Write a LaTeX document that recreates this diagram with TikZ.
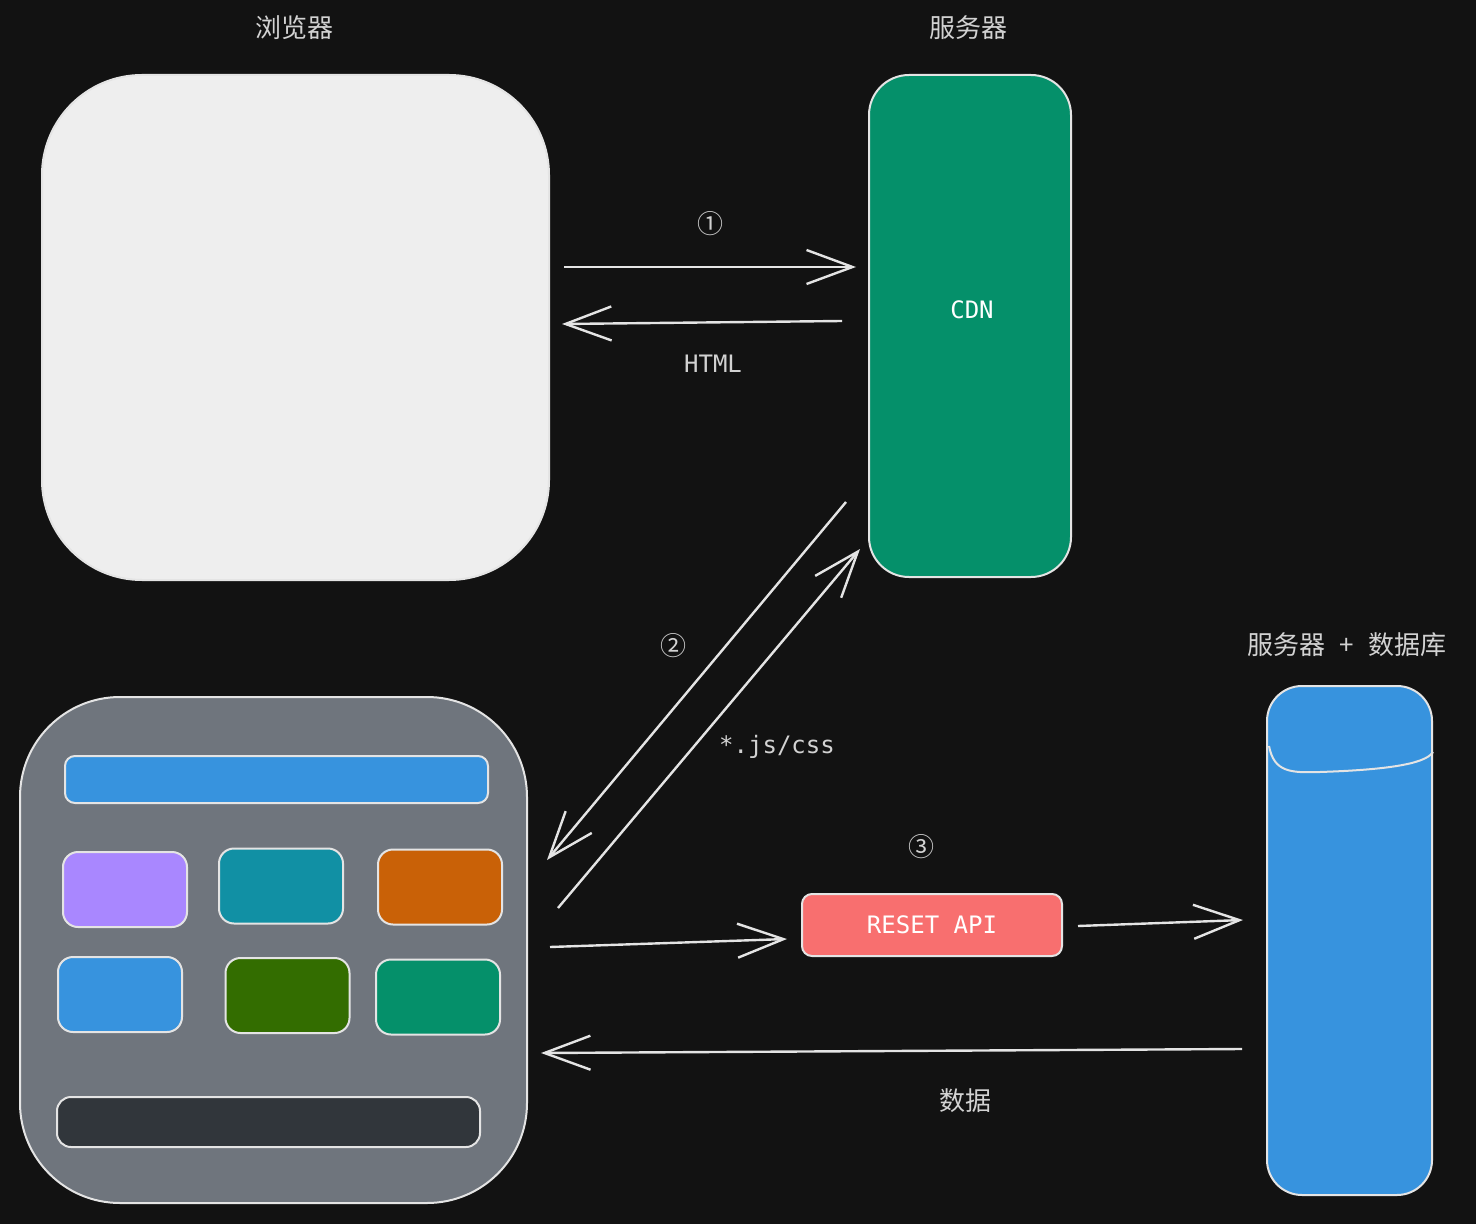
\documentclass[tikz,border=0pt]{standalone}
\usepackage{fontspec}
\setmonofont{DejaVu Sans Mono}
\newfontfamily\cjk{Noto Sans CJK SC}
\usetikzlibrary{arrows.meta}

\definecolor{canvas}{HTML}{121212}
\definecolor{edge}{HTML}{E4E4E4}
\definecolor{label}{HTML}{D2D2D2}
\definecolor{paper}{HTML}{EEEEEE}
\definecolor{cdngreen}{HTML}{05906A}
\definecolor{slate}{HTML}{6F757D}
\definecolor{sky}{HTML}{3793DE}
\definecolor{lilac}{HTML}{A987FF}
\definecolor{teal}{HTML}{1190A4}
\definecolor{rust}{HTML}{C96107}
\definecolor{moss}{HTML}{336D00}
\definecolor{ink}{HTML}{31363B}
\definecolor{coral}{HTML}{F86F6F}

\begin{document}
\begin{tikzpicture}[x=0.5pt, y=-0.5pt,
	box/.style={draw=edge, line width=1pt, inner sep=0pt},
	tile/.style={box, minimum width=62pt, minimum height=37.5pt, rounded corners=7.5pt},
	title/.style={text=label, font=\cjk\fontsize{13}{15}\selectfont},
	code/.style={text=label, font=\ttfamily\fontsize{12}{14}\selectfont},
	flow/.style={draw=edge, line width=1.2pt, -{Straight Barb[length=23pt, width=17pt]}}]

	\fill[canvas] (0, 0) rectangle (1476, 1224);
	\useasboundingbox (0, 0) rectangle (1476, 1224);

	% titles
	\node[title] (browsertitle) at (294, 28) {浏览器};
	\node[title] (servertitle) at (968, 28) {服务器};
	\node[title] (dbtitle) at (1347, 645) {服务器\hspace{4pt} + \hspace{4pt}数据库};

	% big boxes
	\node[box, fill=paper, minimum width=253.5pt, minimum height=252.5pt, rounded corners=50pt] (browser) at (295.5, 327.5) {};
	\node[box, fill=cdngreen, minimum width=101pt, minimum height=251pt, rounded corners=20pt] (cdn) at (970, 326) {};
	\node[text=white, font=\ttfamily\fontsize{12}{14}\selectfont] (cdnlabel) at (972, 310) {CDN};
	\node[box, fill=slate, minimum width=253.5pt, minimum height=253pt, rounded corners=50pt] (page) at (273.5, 950) {};
	\node[box, fill=sky, minimum width=82.5pt, minimum height=254.5pt, rounded corners=17.5pt] (db) at (1349.5, 940.5) {};
	\draw[edge, line width=1pt] (1269, 746) .. controls (1274, 772) and (1290, 773) .. (1320, 772) .. controls (1380, 770) and (1425, 765) .. (1433, 752);
	\node[box, fill=coral, minimum width=130pt, minimum height=31pt, rounded corners=5pt, text=white, font=\ttfamily\fontsize{12}{14}\selectfont] (api) at (932, 925) {RESET API};

	% page contents
	\node[box, fill=sky, minimum width=211.5pt, minimum height=23.5pt, rounded corners=5pt] (header) at (276.5, 779.5) {};
	\node[tile, fill=lilac] (tile1) at (125, 889.5) {};
	\node[tile, fill=teal] (tile2) at (281, 886) {};
	\node[tile, fill=rust] (tile3) at (440, 887) {};
	\node[tile, fill=sky] (tile4) at (120, 994.5) {};
	\node[tile, fill=moss] (tile5) at (287.5, 995.5) {};
	\node[tile, fill=cdngreen] (tile6) at (438, 997) {};
	\node[box, fill=ink, minimum width=211.5pt, minimum height=25pt, rounded corners=7pt] (footer) at (268.5, 1122) {};

	% arrow ends
	\coordinate (reqfrom) at (564, 267);
	\coordinate (reqto) at (856, 267);
	\coordinate (htmlfrom) at (842, 321);
	\coordinate (htmlto) at (562, 324);
	\coordinate (assetfrom) at (846, 502);
	\coordinate (assetto) at (547, 860);
	\coordinate (askfrom) at (558, 908);
	\coordinate (askto) at (860, 549);
	\coordinate (callfrom) at (550, 947);
	\coordinate (callto) at (787, 939);
	\coordinate (queryfrom) at (1078, 926);
	\coordinate (queryto) at (1243, 920);
	\coordinate (datafrom) at (1242, 1049);
	\coordinate (datato) at (541, 1053);

	\draw[flow] (reqfrom) -- (reqto);
	\draw[flow] (htmlfrom) -- (htmlto);
	\draw[flow] (assetfrom) -- (assetto);
	\draw[flow] (askfrom) -- (askto);
	\draw[flow] (callfrom) -- (callto);
	\draw[flow] (queryfrom) -- (queryto);
	\draw[flow] (datafrom) -- (datato);

	% labels
	\node[title] (step1) at (710, 224) {①};
	\node[code] (htmltext) at (713, 364) {HTML};
	\node[title] (step2) at (673, 646) {②};
	\node[code] (jstext) at (777, 747) {*.js/css};
	\node[title] (step3) at (921, 847) {③};
	\node[title] (datatext) at (965, 1101) {数据};

\end{tikzpicture}
\end{document}
